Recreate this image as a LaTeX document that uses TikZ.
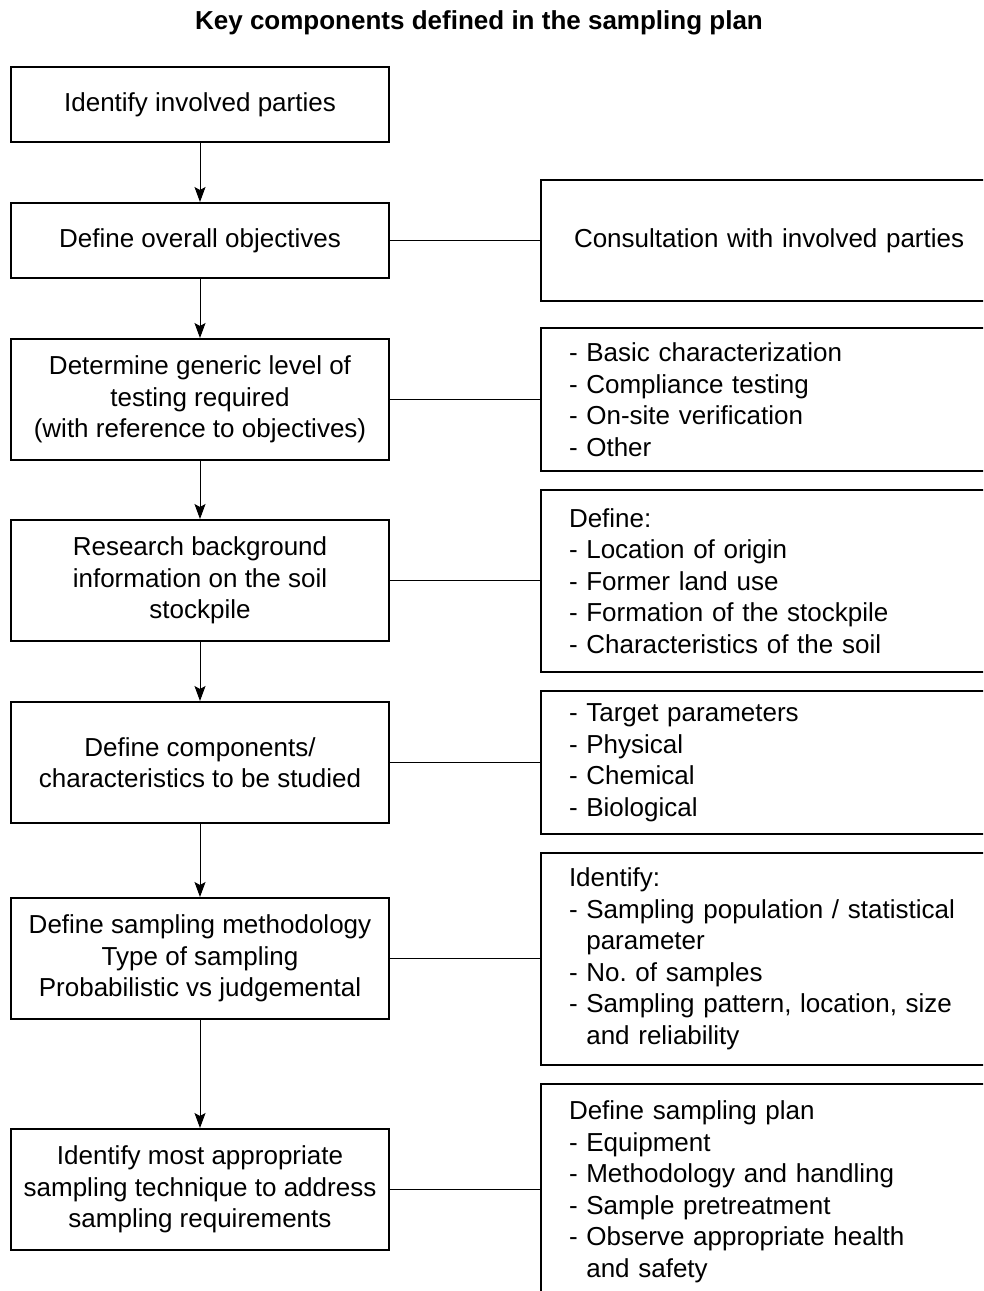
\documentclass[tikz,border=0pt]{standalone}
\usepackage{fontspec}
\setmainfont{Liberation Sans}
\usetikzlibrary{arrows.meta}
\frenchspacing
\begin{document}
\begin{tikzpicture}[x=1pt,y=-1pt,
  lbox/.style={draw, line width=2pt, minimum width=378pt, align=center, inner sep=0pt, font=\fontsize{26}{31.5}\selectfont},
  rbox/.style={draw, line width=2pt, anchor=west, text width=414pt, inner xsep=28pt, inner ysep=0pt, align=left, font=\fontsize{26}{31.5}\selectfont},
  arr/.style={line width=1pt, -{Stealth[length=15pt,width=11pt,inset=3pt]}},
  con/.style={line width=1pt}]
\clip (0,0) rectangle (983,1291);
\fill[white] (0,0) rectangle (983,1291);
\node[font=\bfseries\fontsize{26}{31.5}\selectfont] (title) at (479,23) {Key components defined in the sampling plan};
% left boxes
\node[lbox, minimum height=75pt] (b1) at (200,104.5) {Identify involved parties};
\node[lbox, minimum height=75pt] (b2) at (200,240.5) {Define overall objectives};
\node[lbox, minimum height=121pt] (b3) at (200,399.5) {Determine generic level of\\testing required\\(with reference to objectives)};
\node[lbox, minimum height=121pt] (b4) at (200,580.5) {Research background\\information on the soil\\stockpile};
\node[lbox, minimum height=121pt] (b5) at (200,762.5) {Define components/\\characteristics to be studied};
\node[lbox, minimum height=121pt] (b6) at (200,958.5) {Define sampling methodology\\Type of sampling\\Probabilistic vs judgemental};
\node[lbox, minimum height=121pt] (b7) at (200,1189.5) {Identify most appropriate\\sampling technique to address\\sampling requirements};
% right boxes
\node[rbox, minimum height=121pt, inner xsep=33pt, text width=404pt] (r1) at (540,240.5) {Consultation with involved parties};
\node[rbox, minimum height=143pt] (r2) at (540,399.5) {- Basic characterization\\- Compliance testing\\- On-site verification\\- Other};
\node[rbox, minimum height=182pt] (r3) at (540,581) {Define:\\- Location of origin\\- Former land use\\- Formation of the stockpile\\- Characteristics of the soil};
\node[rbox, minimum height=143pt] (r4) at (540,762.5) {- Target parameters\\- Physical\\- Chemical\\- Biological};
\node[rbox, minimum height=212pt] (r5) at (540,959) {Identify:\\- Sampling population / statistical\\\phantom{- }parameter\\- No. of samples\\- Sampling pattern, location, size\\\phantom{- }and reliability};
\node[rbox, minimum height=216pt] (r6) at (540,1192) {Define sampling plan\\- Equipment\\- Methodology and handling\\- Sample pretreatment\\- Observe appropriate health\\\phantom{- }and safety};
% arrows
\foreach \a/\b in {b1/b2,b2/b3,b3/b4,b4/b5,b5/b6,b6/b7}
  \draw[arr] (\a.south) -- (\b.north);
% connectors
\foreach \a/\b in {b2/r1,b3/r2,b4/r3,b5/r4,b6/r5,b7/r6}
  \draw[con] (\a.east) -- (\a.east -| \b.west);
\end{tikzpicture}
\end{document}
